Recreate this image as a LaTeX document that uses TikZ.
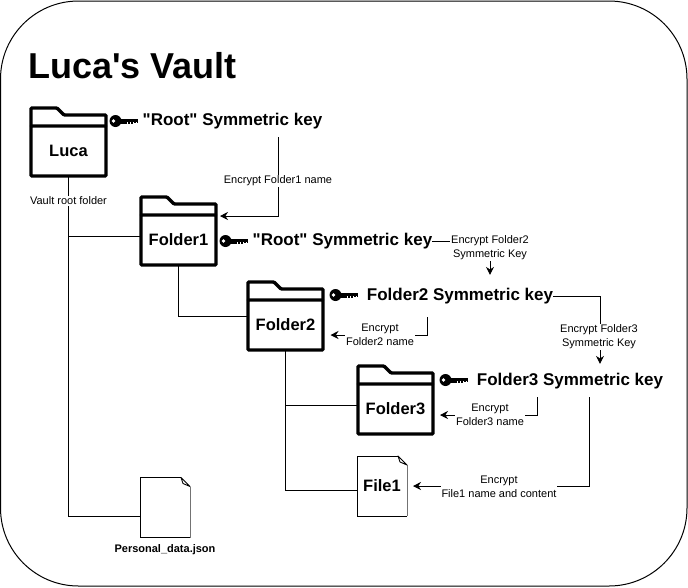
\documentclass[tikz,border=0pt]{standalone}
\usepackage{fontspec}
\setmainfont{Liberation Sans}[Ligatures=TeXOff]
\usetikzlibrary{arrows.meta}
\begin{document}
\begin{tikzpicture}[
  x=1pt, y=-1pt,
  font=\fontsize{11}{14}\selectfont,
  wire/.style={black, line width=0.9pt},
  warrow/.style={wire, -{Stealth[length=8pt,width=8pt]}},
  foldernode/.style={draw, line width=3.4pt, rounded corners=1pt, minimum width=75pt, minimum height=50pt, inner sep=0pt, outer sep=0pt, font=\fontsize{16.5}{18}\selectfont\bfseries},
  folderline/.style={line width=3.4pt, rounded corners=1pt},
  filenode/.style={minimum width=50pt, minimum height=60pt, inner sep=0pt, outer sep=0pt, font=\fontsize{16.5}{18}\selectfont\bfseries},
  keylbl/.style={font=\fontsize{17}{20}\selectfont\bfseries, inner sep=0pt},
  glbl/.style={fill=white, align=center, inner sep=1pt},
  keyicon/.pic={
    \fill[black] (5.5,0) circle (6);
    \fill[white] (3.5,0) circle (1.8);
    \fill[black] (9,-2.5) rectangle (24,2.5);
    \fill[black] (24,-1.8) rectangle (27.5,1.8);
    \foreach \t in {17,20,23,26} {\fill[white] (\t,1.2) rectangle (\t+1,2.7);}
  },
]
\useasboundingbox (0,0) rectangle (688,587);

% ---------- vault outline ----------
\draw[black, line width=1pt, rounded corners=78pt] (0.5,1) rectangle (687,586);
\node[font=\fontsize{36}{40}\selectfont\bfseries, anchor=west, inner sep=0pt] (vaulttitle) at (28,66) {Luca's Vault};

% ---------- folders ----------
% name, centre x, centre y, label
\foreach \nm/\x/\y/\lb in {
  luca/68.5/151/Luca,
  folderA/178.5/240/Folder1,
  folderB/285.5/325/Folder2,
  folderC/395.5/409/Folder3}
{
  \node[foldernode] (\nm) at (\x,\y) {\lb};
  \draw[folderline] (\nm.north west) -- ++(0,-18) -- ++(26,0) -- ++(7,7) -- ++(42,0) -- (\nm.north east);
}

% ---------- files ----------
\foreach \nm/\x/\y/\lb in {
  fileA/382/486/File1,
  personal/165/507.5/{}}
{
  \node[filenode] (\nm) at (\x,\y) {\lb};
  \draw[black!55, line width=1pt] (\nm.north east) ++(0,9) -- (\nm.south east);
  \draw[wire] (\nm.north east) ++(-9,0) -- (\nm.north west) -- (\nm.south west) -- (\nm.south east);
  \draw[wire, line join=round] (\nm.north east) ++(-9,0) -- ++(9,9) -- ++(-7,-3) -- cycle;
}
\node[inner sep=0pt, font=\fontsize{11}{12}\selectfont\bfseries] (personallbl) at (165,550) {Personal\_data.json};

% ---------- keys ----------
\foreach \x/\y in {110/121, 220/241, 330/295, 440/380}
  \pic at (\x,\y) {keyicon};
\node[keylbl] (rootA) at (232.5,121.5) {"Root" Symmetric key};
\node[keylbl] (rootB) at (342.5,241.5) {"Root" Symmetric key};
\node[keylbl] (keyB) at (460,296.5) {Folder2 Symmetric key};
\node[keylbl] (keyC) at (570,381.5) {Folder3 Symmetric key};

% ---------- tree ----------
\draw[wire] (luca.south) |- ([yshift=-8.5pt]personal.west);
\draw[wire] (luca.south) |- ([yshift=4pt]folderA.west);
\draw[wire] (folderA.south) |- ([yshift=9pt]folderB.west);
\draw[wire] (folderB.south) |- ([yshift=4pt]folderC.west);
\draw[wire] (folderB.south) |- ([yshift=-4pt]fileA.west);
\node[glbl] (rootlbl) at (68.5,201) {Vault root folder};

% ---------- encryption arrows ----------
\draw[warrow] ([xshift=45.5pt,yshift=-7.5pt]rootA.south) |- ([xshift=4pt,yshift=24pt]folderA.east);
\node[glbl] (encA) at (278,181) {Encrypt Folder1 name};

\draw[warrow] (rootB.east) -| ([xshift=30pt,yshift=13.5pt]keyB.north);
\node[glbl] (encB) at (490,247.5) {Encrypt Folder2\\Symmetric Key};

\draw[warrow] (keyB.east) -| ([xshift=30pt,yshift=9.5pt]keyC.north);
\node[glbl] (encC) at (599,337) {Encrypt Folder3\\Symmetric Key};

\draw[warrow] ([xshift=-33pt,yshift=-12.5pt]keyB.south) |- ([xshift=7.5pt,yshift=-10pt]folderB.east);
\node[glbl] (encD) at (380,335) {Encrypt\\Folder2 name};

\draw[warrow] ([xshift=-33pt,yshift=-7.5pt]keyC.south) |- ([xshift=7pt,yshift=-6pt]folderC.east);
\node[glbl] (encE) at (490,415) {Encrypt\\Folder3 name};

\draw[warrow] ([xshift=19pt,yshift=-7.5pt]keyC.south) |- ([xshift=6pt]fileA.east);
\node[glbl] (encF) at (499,487) {Encrypt\\File1 name and content};
\end{tikzpicture}
\end{document}
